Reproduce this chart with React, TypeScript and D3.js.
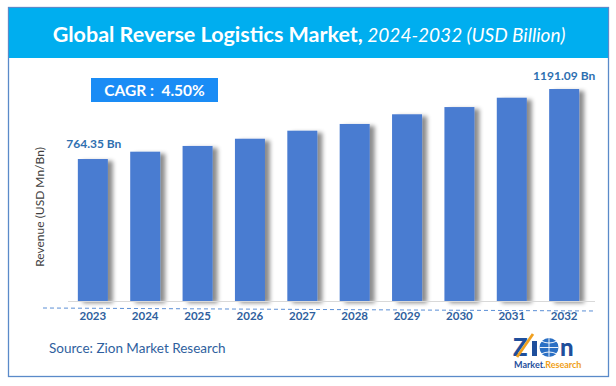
import * as d3 from "d3";

const years = ["2023", "2024", "2025", "2026", "2027", "2028", "2029", "2030", "2031", "2032"];
const revenue = [764.35, 809, 844, 888, 937, 978, 1037, 1081, 1138, 1191.09];
const firstLabel = "764.35 Bn";
const lastLabel = "1191.09 Bn";
const cagrText = "CAGR :  4.50%";

const W = 616;
const H = 386;
const font = "Lato, 'Open Sans', sans-serif";

export default function App() {
  const x = d3.scaleBand<string>()
    .domain(years)
    .range([66, 591])
    .paddingInner(0.427)
    .paddingOuter(0.226);

  // axis doesn't start at zero in the original chart
  const y = d3.scaleLinear()
    .domain([-101, 1191.09])
    .range([301, 89]);

  const base = y(-101);
  const first = years[0];
  const last = years[years.length - 1];

  return (
    <svg width={W} height={H} style={{ position: "absolute", left: 0, top: 0 }} fontFamily={font}>
      <defs>
        <filter id="shadow" x="-20%" y="-10%" width="160%" height="130%">
          <feDropShadow dx="5" dy="2" stdDeviation="2.2" floodColor="#000" floodOpacity="0.45" />
        </filter>
      </defs>
      <rect x={0} y={0} width={W} height={H} fill="#fff" />
      <rect x={8.5} y={7.5} width={600} height={369} fill="#fff" stroke="#5b8ac9" strokeWidth={1.3} />
      <rect x={9} y={8} width={599} height={50} fill="#00aeef" />
      <text x={309} y={42} textAnchor="middle" fill="#fff" fontSize={21.5}>
        <tspan fontWeight="bold">Global Reverse Logistics Market,</tspan>
        <tspan fontStyle="italic" fontSize={19}> 2024-2032 (USD Billion)</tspan>
      </text>

      <rect x={91} y={78} width={127} height={24} fill="#1a8cf5" />
      <text x={154.5} y={96} textAnchor="middle" fill="#fff" fontSize={15.5} fontWeight="bold" style={{ whiteSpace: "pre" }}>{cagrText}</text>

      <g filter="url(#shadow)">
        {years.map((yr, i) => (
          <rect key={yr} x={x(yr)} y={y(revenue[i])} width={x.bandwidth()} height={base - y(revenue[i])} fill="#4a7bd1" />
        ))}
      </g>

      <line x1={68} x2={595} y1={base + 0.5} y2={base + 0.5} stroke="#d9d9d9" strokeWidth={1} />
      <line x1={43} x2={596} y1={308} y2={311} stroke="#5b8fd6" strokeWidth={1} strokeDasharray="4,3" />

      {years.map((yr) => (
        <text key={yr} x={(x(yr) as number) + x.bandwidth() / 2} y={320} textAnchor="middle" fill="#2f5f9e" fontSize={11.5} fontWeight="bold">{yr}</text>
      ))}

      <text x={(x(first) as number) + x.bandwidth() / 2 + 1} y={y(revenue[0]) - 11} textAnchor="middle" fill="#2e6fb0" fontSize={12} fontWeight="bold">{firstLabel}</text>
      <text x={(x(last) as number) + x.bandwidth() / 2} y={y(revenue[revenue.length - 1]) - 9} textAnchor="middle" fill="#2e6fb0" fontSize={12} fontWeight="bold">{lastLabel}</text>

      <text transform="translate(44,207) rotate(-90)" textAnchor="middle" fill="#404040" fontSize={12}>Revenue (USD Mn/Bn)</text>

      <text x={49} y={353} fill="#2f5f9e" fontSize={13.5}>Source: Zion Market Research</text>

      <g>
        <text x={513} y={356} fill="#1f4f9c" fontSize={24} fontWeight="900">Z</text>
        <line x1={517} y1={357} x2={533} y2={334} stroke="#f0a020" strokeWidth={2.8} />
        <rect x={532} y={341} width={5} height={15} fill="#1f4f9c" />
        <circle cx={549} cy={347.5} r={9.5} fill="#2a6fc4" />
        <path d="M539.5 347.5 h19 M549 338 v19 M541 341 q8 4 16 0 M541 354 q8 -4 16 0" stroke="#fff" strokeWidth={0.9} fill="none" />
        <text x={560} y={356} fill="#1f4f9c" fontSize={24} fontWeight="900">n</text>
        <text x={514} y={368} fill="#1f4f9c" fontSize={9} fontWeight="bold">Market.<tspan fill="#f0a020">Research</tspan></text>
      </g>
    </svg>
  );
}
